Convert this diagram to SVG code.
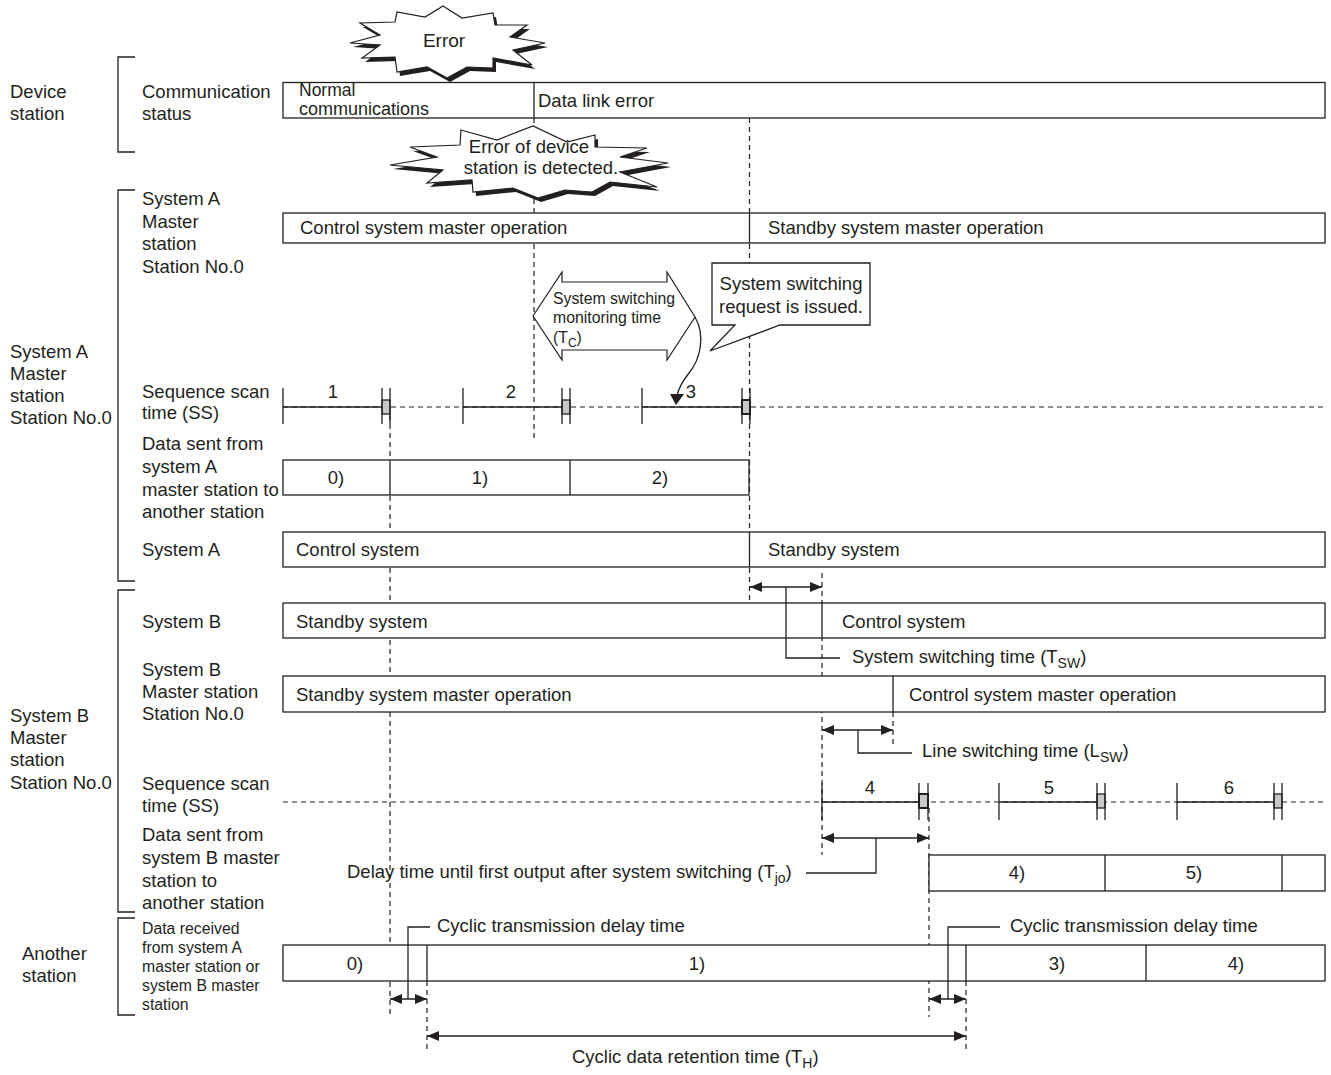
<svg xmlns="http://www.w3.org/2000/svg" width="1331" height="1075" viewBox="0 0 1331 1075">
<defs>
<style>
text{font-family:"Liberation Sans",Arial,sans-serif;font-size:18.5px;fill:#231f20}
.s13{font-size:15.8px}
.mid{text-anchor:middle}
.bar{fill:#fff;stroke:#231f20;stroke-width:1.3}
.ln{stroke:#231f20;stroke-width:1.3;fill:none}
.dash{stroke:#231f20;stroke-width:1.2;stroke-dasharray:5 4;fill:none}
.gray{fill:#c8c8c8;stroke:#231f20;stroke-width:1.3}
.arr{stroke:#231f20;stroke-width:1.3;fill:none;marker-start:url(#ah);marker-end:url(#ah)}
</style>
<marker id="ah" viewBox="0 0 12 10" refX="12" refY="5" markerWidth="12" markerHeight="10" markerUnits="userSpaceOnUse" orient="auto-start-reverse">
<path d="M0,0 L12,5 L0,10 Z" fill="#231f20"/>
</marker>
</defs>

<!-- dashed guide lines (behind bars) -->
<g id="guides">
<line class="dash" x1="534" y1="118" x2="534" y2="442"/>
<line class="dash" x1="749.5" y1="118" x2="749.5" y2="605"/>
<line class="dash" x1="390" y1="415" x2="390" y2="1017"/>
<line class="dash" x1="822" y1="573" x2="822" y2="855"/>
<line class="dash" x1="893" y1="712" x2="893" y2="748"/>
<line class="dash" x1="929" y1="808" x2="929" y2="1017"/>
<line class="dash" x1="427" y1="981" x2="427" y2="1053"/>
<line class="dash" x1="966" y1="981" x2="966" y2="1053"/>
<line class="dash" x1="283" y1="407" x2="1325" y2="407"/>
<line class="dash" x1="283" y1="802" x2="1325" y2="802"/>
</g>

<!-- left brackets and labels -->
<g id="brackets">
<path class="ln" d="M135,57 H118 V152 H135"/>
<path class="ln" d="M135,190 H118 V581 H135"/>
<path class="ln" d="M135,590 H118 V912 H135"/>
<path class="ln" d="M135,918 H118 V1015 H135"/>
</g>
<g id="group-labels">
<text x="10" y="98">Device</text>
<text x="10" y="120">station</text>
<text x="10" y="358">System A</text>
<text x="10" y="380">Master</text>
<text x="10" y="402">station</text>
<text x="10" y="424">Station No.0</text>
<text x="10" y="722">System B</text>
<text x="10" y="744">Master</text>
<text x="10" y="766">station</text>
<text x="10" y="789">Station No.0</text>
<text x="22" y="960">Another</text>
<text x="22" y="982">station</text>
</g>
<g id="row-labels">
<text x="142" y="98">Communication</text>
<text x="142" y="120">status</text>
<text x="142" y="205">System A</text>
<text x="142" y="228">Master</text>
<text x="142" y="250">station</text>
<text x="142" y="273">Station No.0</text>
<text x="142" y="398">Sequence scan</text>
<text x="142" y="419">time (SS)</text>
<text x="142" y="450">Data sent from</text>
<text x="142" y="473">system A</text>
<text x="142" y="496">master station to</text>
<text x="142" y="518">another station</text>
<text x="142" y="556">System A</text>
<text x="142" y="628">System B</text>
<text x="142" y="676">System B</text>
<text x="142" y="698">Master station</text>
<text x="142" y="720">Station No.0</text>
<text x="142" y="790">Sequence scan</text>
<text x="142" y="812">time (SS)</text>
<text x="142" y="841">Data sent from</text>
<text x="142" y="864">system B master</text>
<text x="142" y="887">station to</text>
<text x="142" y="909">another station</text>
<text class="s13" x="142" y="934">Data received</text>
<text class="s13" x="142" y="953">from system A</text>
<text class="s13" x="142" y="972">master station or</text>
<text class="s13" x="142" y="991">system B master</text>
<text class="s13" x="142" y="1010">station</text>
</g>

<!-- Communication status -->
<g id="comm-status">
<rect class="bar" x="283" y="82.5" width="1042" height="35.5"/>
<line class="ln" x1="534" y1="82.5" x2="534" y2="118"/>
<text x="299" y="96" style="font-size:17.5px">Normal</text>
<text x="299" y="115" style="font-size:18px">communications</text>
<text x="538" y="107">Data link error</text>
</g>

<!-- Error burst -->
<g id="error-burst">
<polygon transform="translate(3,4)" fill="#231f20" points="443,6 462,18 493,13 495,25 527,25 510,37 545,43 513,50 532,65 493,58 493,68 467,67 447,78 427,67 397,72 395,57 362,58 380,45 350,43 380,35 360,23 395,22 397,12 425,17"/>
<polygon fill="#fff" stroke="#231f20" stroke-width="1.2" points="443,6 462,18 493,13 495,25 527,25 510,37 545,43 513,50 532,65 493,58 493,68 467,67 447,78 427,67 397,72 395,57 362,58 380,45 350,43 380,35 360,23 395,22 397,12 425,17"/>
<text class="mid" x="444" y="47" style="font-size:19px">Error</text>
</g>

<g id="detected-burst">
<polygon transform="translate(3,4)" fill="#231f20" points="461,130 497,140 533,126 567,142 595,135 595,147 647,148 620,157 668,163 620,172 657,187 610,182 592,192 565,190 538,198 513,188 473,192 472,180 427,183 443,170 390,165 437,157 410,147 460,145"/>
<polygon fill="#fff" stroke="#231f20" stroke-width="1.2" points="461,130 497,140 533,126 567,142 595,135 595,147 647,148 620,157 668,163 620,172 657,187 610,182 592,192 565,190 538,198 513,188 473,192 472,180 427,183 443,170 390,165 437,157 410,147 460,145"/>
<text class="mid" x="529" y="153">Error of device</text>
<text class="mid" x="541" y="174">station is detected.</text>
</g>

<!-- System A master operation -->
<g id="sysA-master">
<rect class="bar" x="283" y="213" width="1042" height="30"/>
<line class="ln" x1="749.5" y1="213" x2="749.5" y2="243"/>
<text x="300" y="234">Control system master operation</text>
<text x="768" y="234">Standby system master operation</text>
</g>

<!-- Block arrow: monitoring time -->
<g id="monitor-arrow">
<polygon fill="#fff" stroke="#231f20" stroke-width="1.2" points="533,316 562,272 562,282 667,282 667,272 695,317 667,360 667,350 562,350 562,360"/>
<text class="s13" x="553" y="304">System switching</text>
<text class="s13" x="553" y="323">monitoring time</text>
<text class="s13" x="553" y="343">(T<tspan font-size="12" dy="4">C</tspan><tspan dy="-4">)</tspan></text>
<path class="ln" d="M695,317 C706,336 700,360 689,373 C682,382 678,390 677,396"/>
<polygon fill="#231f20" points="670,394 684,394 676,405"/>
</g>

<!-- callout -->
<g id="callout">
<path fill="#fff" stroke="#231f20" stroke-width="1.3" d="M712,263 H870 V325 H780 L710,351 L735,325 H712 Z"/>
<text class="mid" x="791" y="290">System switching</text>
<text class="mid" x="791" y="313">request is issued.</text>
</g>

<!-- Sequence scan A -->
<g id="scanA">
<line class="ln" x1="283" y1="407" x2="382" y2="407"/>
<line class="ln" x1="463" y1="407" x2="562" y2="407"/>
<line class="ln" x1="642" y1="407" x2="742" y2="407"/>
<line class="ln" x1="283" y1="388" x2="283" y2="424"/>
<line class="ln" x1="463" y1="388" x2="463" y2="424"/>
<line class="ln" x1="642" y1="388" x2="642" y2="424"/>
<rect class="gray" x="382" y="400" width="8" height="14"/>
<line class="ln" x1="382" y1="388" x2="382" y2="424"/><line class="ln" x1="390" y1="388" x2="390" y2="424"/>
<rect class="gray" x="562" y="400" width="8" height="14"/>
<line class="ln" x1="562" y1="388" x2="562" y2="424"/><line class="ln" x1="570" y1="388" x2="570" y2="424"/>
<rect class="gray" x="742" y="400" width="8" height="14" style="stroke-width:2"/>
<line class="ln" x1="742" y1="388" x2="742" y2="424"/><line class="ln" x1="750" y1="388" x2="750" y2="424"/>
<text class="mid" x="333" y="398">1</text>
<text class="mid" x="511" y="398">2</text>
<text class="mid" x="691" y="398">3</text>
</g>

<!-- Data sent from A -->
<g id="dataA">
<rect class="bar" x="283" y="460" width="466" height="35"/>
<line class="ln" x1="390" y1="460" x2="390" y2="495"/>
<line class="ln" x1="570" y1="460" x2="570" y2="495"/>
<text class="mid" x="336" y="484">0)</text>
<text class="mid" x="480" y="484">1)</text>
<text class="mid" x="660" y="484">2)</text>
</g>

<!-- System A -->
<g id="sysA">
<rect class="bar" x="283" y="532" width="1042" height="35"/>
<line class="ln" x1="749.5" y1="532" x2="749.5" y2="567"/>
<text x="296" y="556">Control system</text>
<text x="768" y="556">Standby system</text>
</g>

<!-- System B -->
<g id="sysB">
<rect class="bar" x="283" y="603" width="1042" height="35"/>
<line class="ln" x1="822" y1="603" x2="822" y2="638"/>
<text x="296" y="628">Standby system</text>
<text x="842" y="628">Control system</text>
</g>

<!-- System B master -->
<g id="sysB-master">
<rect class="bar" x="283" y="676" width="1042" height="36"/>
<line class="ln" x1="893" y1="676" x2="893" y2="712"/>
<text x="296" y="701">Standby system master operation</text>
<text x="909" y="701">Control system master operation</text>
</g>

<!-- Sequence scan B -->
<g id="scanB">
<line class="ln" x1="822" y1="802" x2="919" y2="802"/>
<line class="ln" x1="999" y1="802" x2="1097" y2="802"/>
<line class="ln" x1="1177" y1="802" x2="1273" y2="802"/>
<line class="ln" x1="822" y1="783" x2="822" y2="820"/>
<line class="ln" x1="999" y1="783" x2="999" y2="820"/>
<line class="ln" x1="1177" y1="783" x2="1177" y2="820"/>
<rect class="gray" x="919" y="794" width="9" height="14" style="stroke-width:2"/>
<line class="ln" x1="919" y1="783" x2="919" y2="820"/><line class="ln" x1="928" y1="783" x2="928" y2="820"/>
<rect class="gray" x="1097" y="794" width="8" height="14"/>
<line class="ln" x1="1097" y1="783" x2="1097" y2="820"/><line class="ln" x1="1105" y1="783" x2="1105" y2="820"/>
<rect class="gray" x="1274" y="794" width="8" height="14"/>
<line class="ln" x1="1274" y1="783" x2="1274" y2="820"/><line class="ln" x1="1282" y1="783" x2="1282" y2="820"/>
<text class="mid" x="870" y="794">4</text>
<text class="mid" x="1049" y="794">5</text>
<text class="mid" x="1229" y="794">6</text>
</g>

<!-- Data sent from B -->
<g id="dataB">
<rect class="bar" x="929" y="855" width="396" height="36"/>
<line class="ln" x1="1105" y1="855" x2="1105" y2="891"/>
<line class="ln" x1="1282" y1="855" x2="1282" y2="891"/>
<text class="mid" x="1017" y="879">4)</text>
<text class="mid" x="1194" y="879">5)</text>
</g>

<!-- Another station -->
<g id="another">
<rect class="bar" x="283" y="945" width="1042" height="36"/>
<line class="ln" x1="427" y1="945" x2="427" y2="981"/>
<line class="ln" x1="966" y1="945" x2="966" y2="981"/>
<line class="ln" x1="1146" y1="945" x2="1146" y2="981"/>
<text class="mid" x="355" y="970">0)</text>
<text class="mid" x="697" y="970">1)</text>
<text class="mid" x="1057" y="970">3)</text>
<text class="mid" x="1236" y="970">4)</text>
</g>

<!-- connectors / dimension arrows -->
<g id="connectors">
<line class="arr" x1="750" y1="587" x2="822" y2="587"/>
<path class="ln" d="M786,587 V658 H840"/>
<line class="arr" x1="822" y1="730" x2="893" y2="730"/>
<path class="ln" d="M858,730 V753 H912"/>
<line class="arr" x1="822" y1="838" x2="929" y2="838"/>
<path class="ln" d="M876,838 V873 H806"/>
<line class="arr" x1="390" y1="999" x2="427" y2="999"/>
<path class="ln" d="M408,999 V927 H430"/>
<line class="arr" x1="929" y1="999" x2="966" y2="999"/>
<path class="ln" d="M948,999 V927 H1000"/>
<line class="arr" x1="427" y1="1036" x2="966" y2="1036"/>
</g>
<g id="connector-labels">
<text x="852" y="663">System switching time (T<tspan font-size="14" dy="5">SW</tspan><tspan dy="-5">)</tspan></text>
<text x="922" y="757">Line switching time (L<tspan font-size="14" dy="5">SW</tspan><tspan dy="-5">)</tspan></text>
<text x="347" y="878">Delay time until first output after system switching (T<tspan font-size="14" dy="5">jo</tspan><tspan dy="-5">)</tspan></text>
<text x="437" y="932">Cyclic transmission delay time</text>
<text x="1010" y="932">Cyclic transmission delay time</text>
<text x="572" y="1063">Cyclic data retention time (T<tspan font-size="14" dy="5">H</tspan><tspan dy="-5">)</tspan></text>
</g>
</svg>
